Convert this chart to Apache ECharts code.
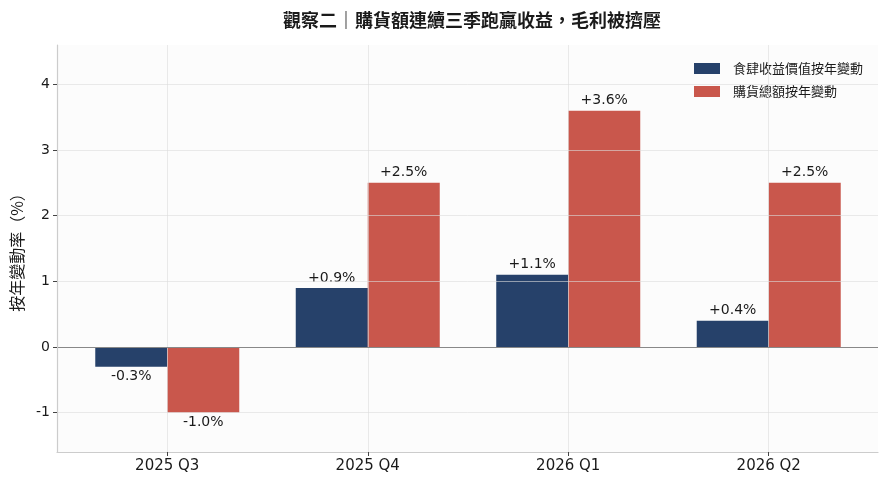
<!DOCTYPE html>
<html>
<head>
<meta charset="utf-8">
<title>觀察二</title>
<script src="https://cdn.jsdelivr.net/npm/echarts@6/dist/echarts.min.js"></script>
<style>
  html, body { margin: 0; padding: 0; background: #ffffff; }
  #main { width: 888px; height: 487px; }
</style>
</head>
<body>
<div id="main"></div>
<script type="text/javascript">

// 資料
var quarters = ['2025 Q3', '2025 Q4', '2026 Q1', '2026 Q2'];
var revenueYoY = [-0.3, 0.9, 1.1, 0.4];   // 食肆收益價值按年變動
var purchaseYoY = [-1.0, 2.5, 3.6, 2.5];  // 購貨總額按年變動
var yTicks = [-1, 0, 1, 2, 3, 4];
var xTicks = [0, 1, 2, 3];

var NAVY = '#26416a';
var RED = '#c9574c';
var TXT = '#1a1a1a';
var LATIN = 'DejaVu Sans';
var CJK = 'Noto Sans CJK TC';

function pct(v) {
    return (v > 0 ? '+' : '') + v.toFixed(1) + '%';
}

function toData(vals) {
    return vals.map(function (v, i) {
        return {
            value: [i, v],
            label: { position: v < 0 ? 'bottom' : 'top' }
        };
    });
}

var barLabel = {
    show: true,
    distance: 3,
    color: TXT,
    fontFamily: LATIN,
    fontSize: 14,
    formatter: function (p) { return pct(p.value[1]); }
};

var myChart = echarts.init(document.getElementById('main'));

var option = {
    backgroundColor: '#ffffff',
    animation: false,
    title: {
        text: '觀察二｜購貨額連續三季跑贏收益，毛利被擠壓',
        left: 467,
        textAlign: 'center',
        top: 6,
        textStyle: { fontFamily: CJK, fontWeight: 'bold', fontSize: 18, color: '#1a1a1a' }
    },
    legend: {
        orient: 'vertical',
        left: 689,
        top: 57,
        itemWidth: 26,
        itemHeight: 11,
        itemGap: 10,
        icon: 'rect',
        textStyle: { fontFamily: CJK, fontSize: 13, color: TXT, padding: [0, 0, 0, 8] },
        data: ['食肆收益價值按年變動', '購貨總額按年變動']
    },
    grid: {
        left: 57, right: 10, top: 45, bottom: 35,
        outerBoundsMode: 'none',
        show: true,
        backgroundColor: '#fcfcfc',
        borderWidth: 0
    },
    xAxis: {
        type: 'value',
        min: -0.55,
        max: 3.545,
        z: 5,
        axisLine: { show: true, onZero: false, lineStyle: { color: '#cccccc', width: 1.2 } },
        axisTick: { show: true, length: 4, lineStyle: { color: '#444' }, customValues: xTicks },
        axisLabel: {
            customValues: xTicks,
            margin: 7,
            color: TXT,
            fontFamily: LATIN,
            fontSize: 15,
            formatter: function (v) { return quarters[Math.round(v)]; }
        },
        splitLine: { show: true, lineStyle: { color: 'rgba(220,220,220,0.6)', width: 1 } }
    },
    yAxis: {
        type: 'value',
        min: -1.6,
        max: 4.6,
        z: 5,
        name: '按年變動率（%）',
        nameLocation: 'middle',
        nameGap: 31,
        nameTextStyle: { fontFamily: CJK, fontSize: 16, color: TXT },
        axisLine: { show: true, onZero: false, lineStyle: { color: '#cccccc', width: 1.2 } },
        axisTick: { show: true, length: 4, lineStyle: { color: '#444' }, customValues: yTicks },
        axisLabel: {
            customValues: yTicks,
            margin: 7,
            color: TXT,
            fontFamily: LATIN,
            fontSize: 14
        },
        splitLine: { show: true, lineStyle: { color: 'rgba(220,220,220,0.6)', width: 1 } }
    },
    series: [
        {
            name: '食肆收益價值按年變動',
            type: 'bar',
            barWidth: 72,
            barGap: '0%',
            itemStyle: { color: NAVY },
            label: barLabel,
            data: toData(revenueYoY),
            markLine: {
                silent: true,
                symbol: 'none',
                label: { show: false },
                lineStyle: { color: '#888888', width: 1.2, type: 'solid' },
                data: [{ yAxis: 0 }]
            }
        },
        {
            name: '購貨總額按年變動',
            type: 'bar',
            barWidth: 72,
            barGap: '0%',
            itemStyle: { color: RED },
            label: barLabel,
            data: toData(purchaseYoY)
        }
    ]
};

myChart.setOption(option);

</script>
</body>
</html>
